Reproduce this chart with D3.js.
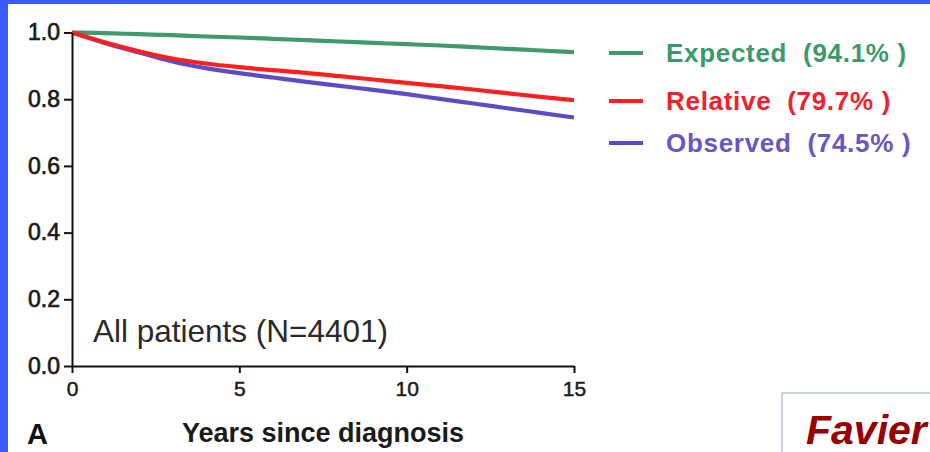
<!DOCTYPE html>
<html>
<head>
<meta charset="utf-8">
<script src="https://cdn.jsdelivr.net/npm/d3@7"></script>
<style>
  html, body { margin: 0; padding: 0; background: #ffffff; }
  svg { display: block; }
  text { font-family: "Liberation Sans", Arial, sans-serif; }
</style>
</head>
<body>
<svg id="chart" width="930" height="452"></svg>
<script>
// Survival by years since diagnosis (annual points)
const years = [0, 1, 2, 3, 4, 5, 6, 7, 8, 9, 10, 11, 12, 13, 14, 15];
const expected = [1.000, 0.998, 0.995, 0.992, 0.988, 0.985, 0.981, 0.977, 0.973, 0.969, 0.965, 0.961, 0.956, 0.951, 0.946, 0.941];
const relative = [1.000, 0.970, 0.944, 0.922, 0.907, 0.896, 0.887, 0.879, 0.869, 0.859, 0.849, 0.839, 0.829, 0.818, 0.807, 0.797];
const observed = [1.000, 0.968, 0.940, 0.913, 0.893, 0.878, 0.865, 0.852, 0.840, 0.828, 0.815, 0.801, 0.787, 0.773, 0.759, 0.745];

const seriesNames = ["Expected", "Relative", "Observed"];
const seriesColors = ["#3f9a6c", "#ff1f1f", "#5b4cc4"];
const textColors = ["#3c9a6a", "#f2202a", "#6a56c2"];

const yTicks = [0, 0.2, 0.4, 0.6, 0.8, 1.0];
const xTicks = [0, 5, 10, 15];

const svg = d3.select("#chart");
const W = 930, H = 452;
const FONT = "'Liberation Sans', Arial, sans-serif";

// page background and blue frame edges
svg.append("rect").attr("width", W).attr("height", H).attr("fill", "#ffffff");
svg.append("rect").attr("x", 0).attr("y", 0).attr("width", W).attr("height", 4).attr("fill", "#3b5bff");
svg.append("rect").attr("x", 0).attr("y", 0).attr("width", 8).attr("height", H).attr("fill", "#3b5bff");

const x = d3.scaleLinear().domain([0, 15]).range([72, 574]);
const y = d3.scaleLinear().domain([0, 1]).range([366, 32.5]);

// survival curves
const line = d3.line()
  .x((d, i) => x(years[i]))
  .y(d => y(d))
  .curve(d3.curveMonotoneX);

const seriesValues = [expected, relative, observed];
const curves = svg.append("g");
// observed drawn before relative so the red stays on top where they overlap
[0, 2, 1].forEach(k => {
  curves.append("path")
    .attr("d", line(seriesValues[k]))
    .attr("fill", "none")
    .attr("stroke", seriesColors[k])
    .attr("stroke-width", 4.2)
    .attr("stroke-linecap", "butt");
});

// axes
const yAxis = d3.axisLeft(y)
  .tickValues(yTicks)
  .tickFormat(d3.format(".1f"))
  .tickSize(8)
  .tickSizeOuter(0)
  .tickPadding(4);
const gy = svg.append("g").attr("transform", `translate(${x(0)},0)`).call(yAxis);
gy.select(".domain").attr("stroke", "#111").attr("stroke-width", 2);
gy.selectAll(".tick line").attr("stroke", "#111").attr("stroke-width", 2);
gy.selectAll(".tick text")
  .attr("fill", "#1a1a1a")
  .attr("stroke", "#1a1a1a")
  .attr("stroke-width", 0.7)
  .style("font-size", "23px")
  .style("font-family", FONT);

const xAxis = d3.axisBottom(x)
  .tickValues(xTicks)
  .tickFormat(d3.format("d"))
  .tickSize(7)
  .tickSizeOuter(0)
  .tickPadding(8);
const gx = svg.append("g").attr("transform", `translate(0,${y(0)})`).call(xAxis);
gx.select(".domain").attr("stroke", "#111").attr("stroke-width", 2);
gx.selectAll(".tick line").attr("stroke", "#111").attr("stroke-width", 2);
gx.selectAll(".tick text")
  .attr("fill", "#1a1a1a")
  .attr("stroke", "#1a1a1a")
  .attr("stroke-width", 0.5)
  .style("font-size", "21px")
  .style("font-family", FONT);

// cohort label inside the plot
svg.append("text")
  .attr("x", 93).attr("y", 342)
  .attr("fill", "#2a2a2a")
  .style("font-size", "31.5px")
  .text("All patients (N=4401)");

// axis title and panel letter
svg.append("text")
  .attr("x", (x(0) + x(15)) / 2).attr("y", 442)
  .attr("text-anchor", "middle")
  .attr("fill", "#1a1a1a")
  .style("font-size", "27px")
  .style("font-weight", "bold")
  .text("Years since diagnosis");

svg.append("text")
  .attr("x", 27).attr("y", 444)
  .attr("fill", "#111")
  .style("font-size", "29px")
  .style("font-weight", "bold")
  .text("A");

// legend
const legendY = [53, 101, 143];
const finals = seriesValues.map(v => v[v.length - 1]);
const legend = svg.append("g");
seriesNames.forEach((name, i) => {
  legend.append("line")
    .attr("x1", 609).attr("x2", 643)
    .attr("y1", legendY[i]).attr("y2", legendY[i])
    .attr("stroke", seriesColors[i])
    .attr("stroke-width", 4.2);
  legend.append("text")
    .attr("x", 666).attr("y", legendY[i])
    .attr("dy", "0.36em")
    .attr("fill", textColors[i])
    .style("font-size", "26px")
    .style("font-weight", "bold")
    .style("letter-spacing", "0.7px")
    .style("white-space", "pre")
    .text(`${name}  (${(finals[i] * 100).toFixed(1)}% )`);
});

// citation box at the lower right
svg.append("rect")
  .attr("x", 782).attr("y", 393)
  .attr("width", 170).attr("height", 80)
  .attr("fill", "#ffffff")
  .attr("stroke", "#c8d3df")
  .attr("stroke-width", 2);
svg.append("text")
  .attr("x", 806).attr("y", 444)
  .attr("fill", "#990000")
  .style("font-size", "41px")
  .style("font-weight", "bold")
  .style("font-style", "italic")
  .text("Favier");
</script>
</body>
</html>
